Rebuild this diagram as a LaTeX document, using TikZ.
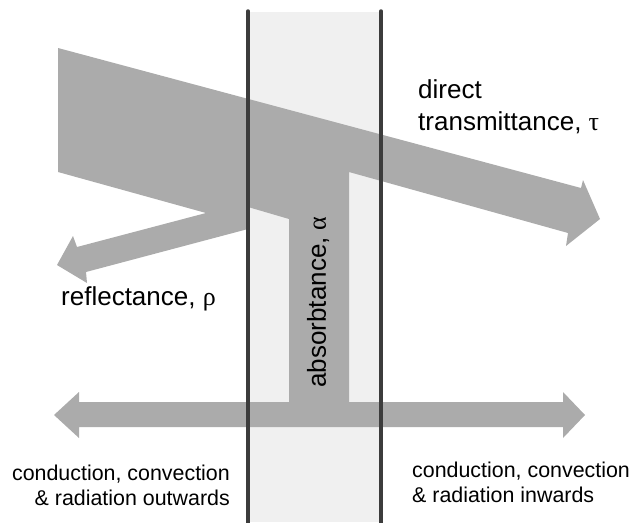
\documentclass[tikz,border=0pt]{standalone}
\usepackage{fontspec}
\setmainfont{Liberation Sans}
\newfontfamily\greekfont{Liberation Serif}
\usetikzlibrary{positioning}
\definecolor{beamgrey}{HTML}{ABABAB}
\definecolor{panegrey}{HTML}{F0F0F0}
\definecolor{edgegrey}{HTML}{3C3C3C}

\begin{document}
\begin{tikzpicture}[x=1pt,y=-1pt,
  beam/.style={fill=beamgrey, draw=none},
  paneedge/.style={draw=edgegrey, line width=3.5pt, line cap=round},
  biglabel/.style={inner sep=0pt, font=\fontsize{26}{32}\selectfont},
  smalllabel/.style={inner sep=0pt, font=\fontsize{21.4}{25}\selectfont}]
\useasboundingbox (0,0) rectangle (634,522);

% glazing
\fill[panegrey] (248,12) rectangle (381,522);

% incident beam, split into transmitted, reflected and absorbed parts
\fill[beam] (58,48) -- (581,188) -- (583,180) -- (600,219) -- (566,246) -- (568,233)
  -- (349,172) -- (349,414) -- (289,414) -- (289,219) -- (248,207) -- (248,229)
  -- (86,272) -- (87,283) -- (57,265) -- (73,236) -- (77,247) -- (206,213)
  -- (58,172) -- cycle;

% heat given off both ways
\fill[beam] (54,415) -- (79,392) -- (79,402) -- (563,402) -- (563,392) -- (585,415)
  -- (563,438) -- (563,427) -- (79,427) -- (79,438) -- cycle;

% glazing edges
\draw[paneedge] (248,11) -- (248,530);
\draw[paneedge] (381,11) -- (381,530);

\node[biglabel, align=left, anchor=base west] (tau) at (418,130)
  {direct\\transmittance, {\greekfont τ}};
\node[biglabel, anchor=base west] (rho) at (61,305) {reflectance, {\greekfont ρ}};
\node[biglabel, rotate=90] (alpha) at (318,302) {absorbtance, {\greekfont α}};

\node[smalllabel, align=right, anchor=base east] (out) at (230,505)
  {conduction, convection\\\& radiation outwards};
\node[smalllabel, align=left, anchor=base west] (in) at (412,502)
  {conduction, convection\\\& radiation inwards};
\end{tikzpicture}
\end{document}
